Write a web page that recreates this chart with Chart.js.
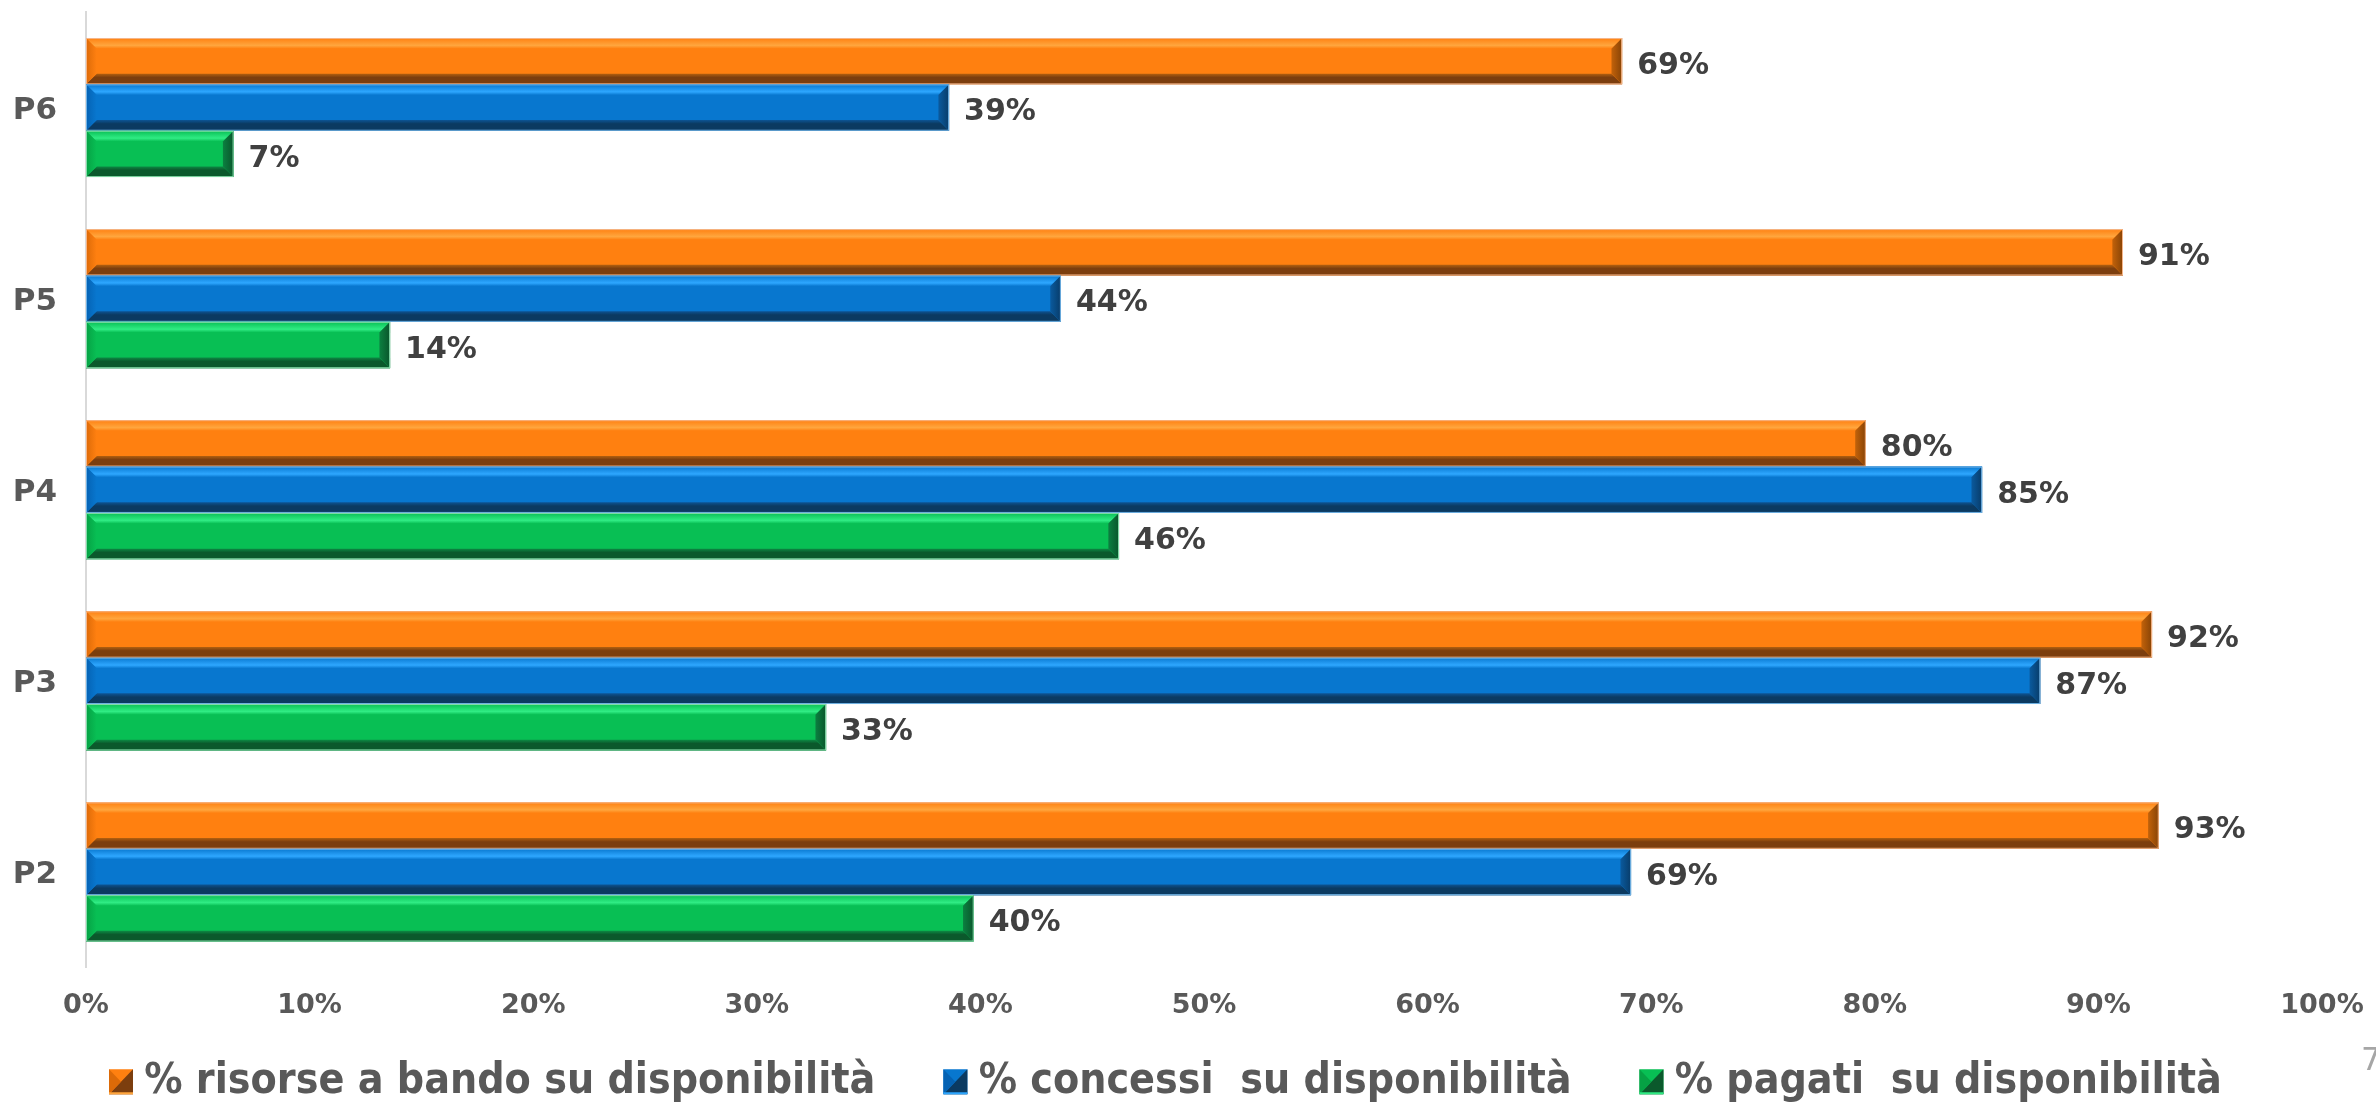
<!DOCTYPE html>
<html>
<head>
<meta charset="utf-8">
<script src="https://cdn.jsdelivr.net/npm/chart.js@4.4.0/dist/chart.umd.min.js"></script>
<style>
html,body{margin:0;padding:0;background:#fff;}
#wrap{position:relative;width:2376px;height:1105px;overflow:hidden;background:#fff;}
#pageno{position:absolute;left:2361px;top:1040px;font:32px 'DejaVu Sans';color:#A6A6A6;}
</style>
</head>
<body>
<div id="wrap"><canvas id="c" width="2376" height="1105"></canvas><div id="pageno">7</div></div>
<script>
// ---- data ----
const categories = ['P6', 'P5', 'P4', 'P3', 'P2'];
const seriesNames = ['% risorse a bando su disponibilità', '% concessi  su disponibilità', '% pagati  su disponibilità'];
const risorseBando = [68.7, 91.1, 79.6, 92.4, 92.7];
const concessi = [38.6, 43.6, 84.8, 87.4, 69.1];
const pagati = [6.6, 13.6, 46.2, 33.1, 39.7];
const xTickValues = [0, 10, 20, 30, 40, 50, 60, 70, 80, 90, 100];

// ---- styles ----
const palettes = [
  {main:'#FF8010', light:'#FFA63E', dark:'#7C3E0E', dark2:'#B3600F', left:'#DC6A08', right1:'#C2620A', right2:'#874306', edge:'#F5B68A'},
  {main:'#0877CF', light:'#2EA7FF', dark:'#0B3A61', dark2:'#0D5494', left:'#0562B3', right1:'#0A5A9E', right2:'#083C69', edge:'#72B4E6'},
  {main:'#08BF54', light:'#30EC84', dark:'#0B592C', dark2:'#0C8A44', left:'#06A144', right1:'#0B8040', right2:'#09552B', edge:'#86DDAA'}
];
const seriesValues = [risorseBando, concessi, pagati];

function poly(ctx, pts, fill) {
  ctx.beginPath();
  ctx.moveTo(pts[0][0], pts[0][1]);
  for (let i = 1; i < pts.length; i++) ctx.lineTo(pts[i][0], pts[i][1]);
  ctx.closePath();
  ctx.fillStyle = fill;
  ctx.fill();
}

function drawBevel(ctx, x0, x1, y0, y1, p) {
  const h = y1 - y0;
  const b = Math.min(h * 0.23, (x1 - x0) / 2);
  let g = ctx.createLinearGradient(0, y0, 0, y0 + b);
  g.addColorStop(0, p.main); g.addColorStop(0.7, p.light); g.addColorStop(1, p.main);
  poly(ctx, [[x0, y0], [x1, y0], [x1 - b, y0 + b], [x0 + b, y0 + b]], g);
  g = ctx.createLinearGradient(0, y1 - b, 0, y1);
  g.addColorStop(0, p.dark2); g.addColorStop(0.35, p.dark); g.addColorStop(1, p.dark);
  poly(ctx, [[x0, y1], [x1, y1], [x1 - b, y1 - b], [x0 + b, y1 - b]], g);
  g = ctx.createLinearGradient(x0, 0, x0 + b, 0);
  g.addColorStop(0, p.left); g.addColorStop(1, p.main);
  poly(ctx, [[x0, y0], [x0 + b, y0 + b], [x0 + b, y1 - b], [x0, y1]], g);
  g = ctx.createLinearGradient(x1 - b, 0, x1, 0);
  g.addColorStop(0, p.right1); g.addColorStop(1, p.right2);
  poly(ctx, [[x1, y0], [x1 - b, y0 + b], [x1 - b, y1 - b], [x1, y1]], g);
  ctx.strokeStyle = p.edge; ctx.lineWidth = 1;
  ctx.strokeRect(x0 + 0.5, y0 + 0.5, x1 - x0 - 1, y1 - y0 - 1);
}

const LEG_SLOT = 44;   // legend box slot width (library layout)
const LEG_BOX_W = 24, LEG_BOX_H = 25;
const LEG_LEFT = 41;

const bevelPlugin = {
  id: 'bevel',
  afterLayout(chart) {
    if (chart.legend) chart.legend.left = LEG_LEFT;
  },
  afterDatasetsDraw(chart) {
    const ctx = chart.ctx;
    ctx.save();
    chart.data.datasets.forEach((ds, i) => {
      const meta = chart.getDatasetMeta(i);
      meta.data.forEach(el => {
        const {x, y, base, height} = el.getProps(['x', 'y', 'base', 'height'], true);
        drawBevel(ctx, Math.min(base, x), Math.max(base, x), y - height / 2, y + height / 2, palettes[i]);
      });
    });
    // value labels
    ctx.font = 'bold 30px "DejaVu Sans"';
    ctx.fillStyle = '#404040';
    ctx.textAlign = 'left';
    ctx.textBaseline = 'middle';
    chart.data.datasets.forEach((ds, i) => {
      const meta = chart.getDatasetMeta(i);
      meta.data.forEach((el, j) => {
        const {x, y} = el.getProps(['x', 'y'], true);
        ctx.fillText(Math.round(ds.data[j]) + '%', x + 15, y + 5);
      });
    });
    ctx.restore();
  },
  afterDraw(chart) {
    const lg = chart.legend;
    if (!lg || !lg.legendHitBoxes) return;
    const ctx = chart.ctx;
    ctx.save();
    lg.legendHitBoxes.forEach((hb, i) => {
      const p = palettes[i];
      const w = LEG_BOX_W, h = LEG_BOX_H;
      const x = hb.left + LEG_SLOT - 14, y = hb.top + (hb.height - h) / 2;
      ctx.fillStyle = p.main; ctx.fillRect(x, y, w, h);
      poly(ctx, [[x + w, y], [x + w, y + h], [x, y + h]], p.dark);
      poly(ctx, [[x, y], [x + w * 0.5, y + h * 0.5], [x, y + h]], p.left);
      ctx.fillStyle = p.light; ctx.fillRect(x, y + h - 2, w, 2);
    });
    ctx.restore();
  }
};

new Chart(document.getElementById('c'), {
  type: 'bar',
  data: {
    labels: categories,
    datasets: seriesNames.map((name, i) => ({
      label: name,
      data: seriesValues[i],
      backgroundColor: palettes[i].main,
      borderWidth: 0,
      categoryPercentage: 0.728,
      barPercentage: 1.0
    }))
  },
  options: {
    indexAxis: 'y',
    responsive: false,
    animation: false,
    devicePixelRatio: 1,
    layout: {padding: {top: 12, left: 0, right: 54, bottom: -8}},
    scales: {
      x: {
        min: 0, max: 100,
        afterBuildTicks(scale) { scale.ticks = xTickValues.map(v => ({value: v})); },
        afterFit(scale) { scale.height = 55; scale.paddingLeft = 0; scale.paddingRight = 0; },
        grid: {display: false, drawTicks: false},
        border: {display: false},
        ticks: {
          padding: 22,
          color: '#595959',
          font: {family: '"DejaVu Sans"', weight: 'bold', size: 27},
          callback: v => v + '%',
          maxRotation: 0, autoSkip: false
        }
      },
      y: {
        afterFit(scale) { scale.width = 86; scale.paddingTop = 0; scale.paddingBottom = 0; },
        grid: {display: false, drawTicks: false},
        border: {display: true, color: '#D9D9D9', width: 2},
        ticks: {
          padding: 29,
          labelOffset: 3,
          color: '#595959',
          font: {family: '"DejaVu Sans"', weight: 'bold', size: 31}
        }
      }
    },
    plugins: {
      tooltip: {enabled: false},
      legend: {
        position: 'bottom',
        align: 'start',
        labels: {
          boxWidth: LEG_SLOT, boxHeight: LEG_BOX_H,
          padding: 38,
          color: '#595959',
          font: {family: '"DejaVu Sans Condensed", "DejaVu Sans"', weight: 'bold', size: 42.5},
          generateLabels(chart) {
            const items = Chart.defaults.plugins.legend.labels.generateLabels(chart);
            items.forEach(it => { it.fillStyle = 'rgba(0,0,0,0)'; it.strokeStyle = 'rgba(0,0,0,0)'; it.lineWidth = 0; });
            return items;
          }
        }
      }
    }
  },
  plugins: [bevelPlugin]
});
</script>
</body>
</html>
